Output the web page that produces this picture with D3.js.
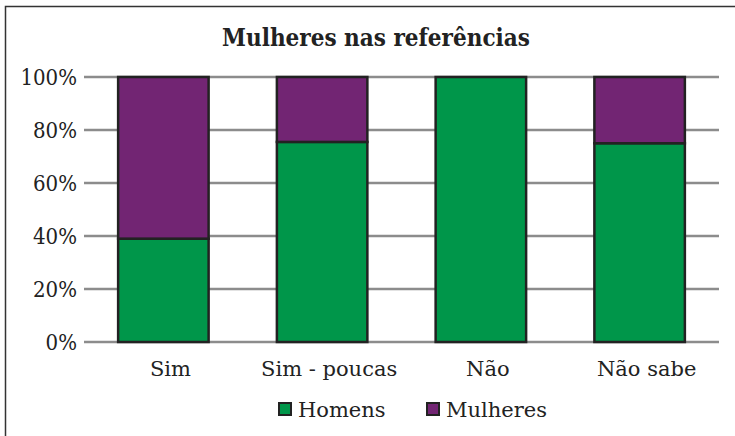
<!DOCTYPE html>
<html>
<head>
<meta charset="utf-8">
<script src="https://cdn.jsdelivr.net/npm/d3@7"></script>
<style>
  html, body { margin: 0; padding: 0; background: #fff; }
  svg { display: block; }
  text { font-family: "DejaVu Serif", "Liberation Serif", serif; fill: #222; }
  .tick-y text, .title { font-stretch: condensed; }
</style>
</head>
<body>
<svg id="chart" width="735" height="436"></svg>
<script>
// Share of references by gender, per answer group
const categories = ["Sim", "Sim - poucas", "Não", "Não sabe"];
const homens = [39, 75.5, 100, 75];
const mulheres = [61, 24.5, 0, 25];
const seriesNames = ["Homens", "Mulheres"];
const seriesColors = ["#00964a", "#722573"];
const yTicks = [0, 20, 40, 60, 80, 100];
const title = "Mulheres nas referências";

const svg = d3.select("#chart");
const W = 735, H = 436;
const margin = { left: 84, right: 16, top: 77, bottom: 94 };

// outer frame (open on the right and bottom, as cropped)
svg.append("path")
  .attr("d", `M5.5,${H + 2} V6.5 H${W + 2}`)
  .attr("fill", "none")
  .attr("stroke", "#333")
  .attr("stroke-width", 1.5);

const x = d3.scaleBand()
  .domain(categories)
  .range([margin.left, W - margin.right])
  .paddingInner(0.43)
  .paddingOuter(0.215);

const y = d3.scaleLinear()
  .domain([0, 100])
  .range([H - margin.bottom, margin.top]);

// gridlines
svg.append("g")
  .selectAll("line")
  .data(yTicks)
  .join("line")
  .attr("x1", margin.left)
  .attr("x2", W - margin.right)
  .attr("y1", d => y(d))
  .attr("y2", d => y(d))
  .attr("stroke", "#8c8c8c")
  .attr("stroke-width", 2.5);

// y tick labels
const yAxis = d3.axisLeft(y).tickValues(yTicks).tickFormat(d => d + "%").tickSize(0).tickPadding(7);
const gy = svg.append("g").attr("class", "tick-y").attr("transform", `translate(${margin.left},0)`).call(yAxis);
gy.select(".domain").remove();
gy.selectAll("text")
  .attr("font-family", "DejaVu Serif, serif")
  .attr("font-size", 22)
  .attr("fill", "#222")
  .attr("dy", "0.35em");

// stacked bars
const rows = categories.map((c, i) => ({ cat: c, Homens: homens[i], Mulheres: mulheres[i] }));
const stack = d3.stack().keys(seriesNames)(rows);
const color = d3.scaleOrdinal().domain(seriesNames).range(seriesColors);

svg.append("g")
  .selectAll("g")
  .data(stack)
  .join("g")
  .attr("fill", d => color(d.key))
  .selectAll("rect")
  .data(d => d.filter(p => p[1] - p[0] > 0))
  .join("rect")
  .attr("x", d => x(d.data.cat))
  .attr("width", x.bandwidth())
  .attr("y", d => y(d[1]))
  .attr("height", d => y(d[0]) - y(d[1]))
  .attr("stroke", "#222")
  .attr("stroke-width", 2.5);

// x category labels
const xAxis = d3.axisBottom(x).tickSize(0).tickPadding(0);
const gx = svg.append("g").attr("transform", `translate(0,${H - margin.bottom})`).call(xAxis);
gx.select(".domain").remove();
gx.selectAll("text")
  .attr("font-family", "DejaVu Serif, serif")
  .attr("font-size", 21)
  .attr("fill", "#222")
  .attr("y", 34)
  .attr("dx", 7)
  .attr("dy", 0);

// title
svg.append("text")
  .attr("class", "title")
  .attr("x", 376)
  .attr("y", 46)
  .attr("text-anchor", "middle")
  .attr("font-size", 24)
  .attr("font-weight", "bold")
  .text(title);

// legend
const legend = svg.append("g");
const legendX = [279, 427];
seriesNames.forEach((name, i) => {
  const g = legend.append("g").attr("transform", `translate(${legendX[i]},403)`);
  g.append("rect")
    .attr("width", 12).attr("height", 12)
    .attr("fill", seriesColors[i])
    .attr("stroke", "#222").attr("stroke-width", 2);
  g.append("text")
    .attr("x", 19).attr("y", 14)
    .attr("font-size", 21)
    .text(name);
});
</script>
</body>
</html>
